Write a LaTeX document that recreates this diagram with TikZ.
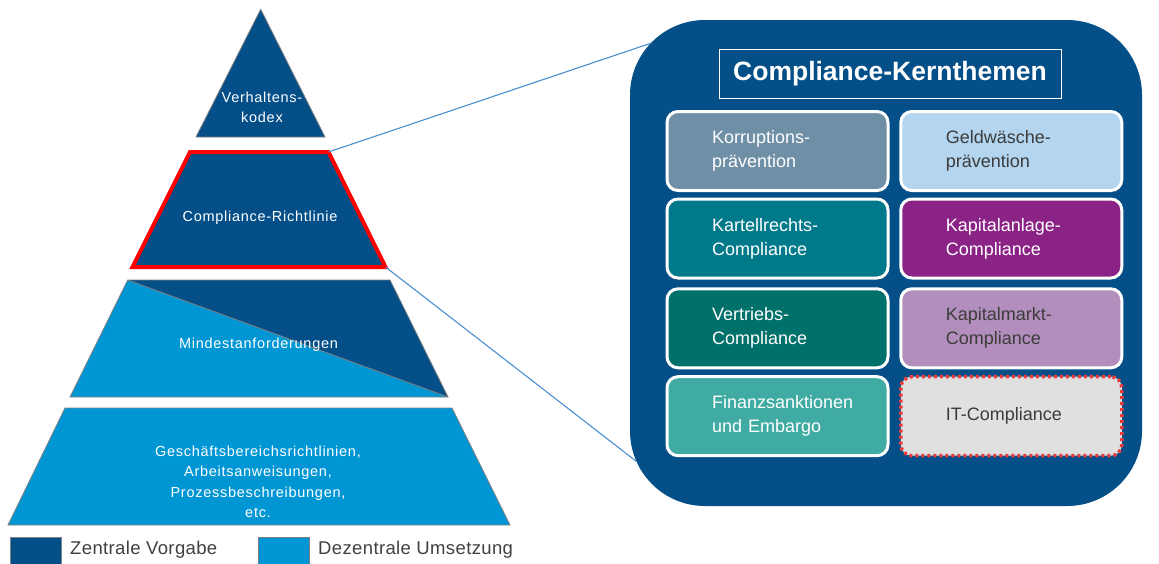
\documentclass[tikz,border=0pt]{standalone}
\usepackage{fontspec}
\setmainfont{Liberation Sans}
\newfontfamily\pyrfont{Liberation Sans}[LetterSpace=5]
\newfontfamily\legendfont{Liberation Sans}[LetterSpace=2]
\usetikzlibrary{calc}
\definecolor{navy}{RGB}{4,79,135}
\definecolor{sky}{RGB}{0,150,212}
\definecolor{edgegray}{RGB}{128,128,128}
\definecolor{linkblue}{RGB}{74,143,208}
\definecolor{legendtext}{RGB}{64,64,64}
\definecolor{darktext}{RGB}{60,60,60}
\definecolor{cKorr}{RGB}{111,143,166}
\definecolor{cGeld}{RGB}{179,213,239}
\definecolor{cKart}{RGB}{0,122,138}
\definecolor{cKapA}{RGB}{139,35,135}
\definecolor{cVert}{RGB}{0,112,106}
\definecolor{cKapM}{RGB}{178,142,188}
\definecolor{cFin}{RGB}{64,171,162}
\definecolor{cIT}{RGB}{224,224,224}
\definecolor{dotred}{RGB}{240,60,60}
\tikzset{
  layer/.style={draw=edgegray, line width=0.8pt},
  pyrtext/.style={text=white, font=\pyrfont\fontsize{14.5}{20}\selectfont, align=center, inner sep=0pt},
  topic/.style={rounded corners=11pt, draw=white, line width=3pt,
    minimum width=221pt, minimum height=79pt, text width=131pt, align=left,
    inner xsep=0pt, font=\fontsize{18}{24}\selectfont, text=white},
  topicdark/.style={topic, text=darktext},
  link/.style={draw=linkblue, line width=1.1pt},
  legendbox/.style={draw=edgegray, line width=0.8pt, minimum width=51pt, minimum height=30pt, inner sep=0pt},
  legendlabel/.style={anchor=west, inner sep=0pt, text=legendtext, font=\legendfont\fontsize{18.5}{22}\selectfont},
}
\begin{document}
\begin{tikzpicture}[x=1pt, y=-1pt]
\useasboundingbox (0,0) rectangle (1159,563);

% ---------- pyramid ----------
% top triangle: code of conduct
\filldraw[layer, fill=navy] (260.7,9.3) -- (325,137) -- (196,137) -- cycle;
\node[pyrtext] (kodex) at (262,107) {Verhaltens-\\kodex};

% highlighted layer: compliance guideline
\coordinate (rTL) at (190,152);
\coordinate (rTR) at (328.5,152);
\coordinate (rBR) at (385.5,267);
\coordinate (rBL) at (132.5,267);
\filldraw[fill=navy, draw=red, line width=4pt, line join=miter]
  (rTL) -- (rTR) -- (rBR) -- (rBL) -- cycle;
\node[pyrtext] (richtlinie) at (260,217.5) {Compliance-Richtlinie};

% minimum requirements: half central, half local
\coordinate (mTL) at (127.7,280);
\coordinate (mTR) at (390,280);
\coordinate (mBR) at (448,397);
\coordinate (mBL) at (70,397);
\fill[sky] (mTL) -- (mTR) -- (mBR) -- (mBL) -- cycle;
\fill[navy] (mTL) -- (mTR) -- (mBR) -- cycle;
\draw[layer] (mTL) -- (mTR) -- (mBR) -- (mBL) -- cycle;
\draw[layer] (mTL) -- (mBR);
\node[pyrtext] (mindest) at (258.5,344.5) {Mindestanforderungen};

% base layer
\filldraw[layer, fill=sky] (65,408) -- (452,408) -- (510,525) -- (8,525) -- cycle;
\node[pyrtext, font=\pyrfont\fontsize{14.5}{20.5}\selectfont] (basis) at (258,482)
  {Geschäftsbereichsrichtlinien,\\Arbeitsanweisungen,\\Prozessbeschreibungen,\\etc.};

% ---------- legend ----------
\node[legendbox, fill=navy, anchor=north west] (lgZ) at (10,537) {};
\node[legendlabel] (lgZt) at (70,550) {Zentrale Vorgabe};
\node[legendbox, fill=sky, anchor=north west] (lgD) at (257.5,537) {};
\node[legendlabel] (lgDt) at (318,550) {Dezentrale Umsetzung};

% ---------- core topics panel ----------
\node[fill=navy, rounded corners=75pt, minimum width=512pt, minimum height=486pt,
      inner sep=0pt] (panel) at (886,263) {};
\coordinate (pTop) at (651.5,43);
\coordinate (pBot) at (636.5,461.5);
\draw[link] (rTR) -- (pTop);
\draw[link] (rBR) -- (pBot);

\node[draw=white, line width=1pt, minimum width=342pt, minimum height=49pt,
      text=white, font=\bfseries\fontsize{26.5}{30}\selectfont] (title) at (890,73.8)
  {Compliance-Kernthemen};

\node[topic, fill=cKorr] (korr) at (777.5,151) {Korruptions-\\prävention};
\node[topicdark, fill=cGeld] (geld) at (1011.3,151) {Geldwäsche-\\prävention};
\node[topic, fill=cKart] (kart) at (777.5,238.5) {Kartellrechts-\\Compliance};
\node[topic, fill=cKapA] (kapa) at (1011.3,238.5) {Kapitalanlage-\\Compliance};
\node[topic, fill=cVert] (vert) at (777.5,328.3) {Vertriebs-\\Compliance};
\node[topicdark, fill=cKapM] (kapm) at (1011.3,328.3) {Kapitalmarkt-\\Compliance};
\node[topic, fill=cFin] (fin) at (777.5,416.2) {Finanzsanktionen\\und Embargo};
\node[topicdark, fill=cIT, draw=dotred, line width=3.5pt,
      dash pattern=on 3pt off 3pt]
  (it) at (1011.3,416.2) {IT-Compliance};
\end{tikzpicture}
\end{document}
